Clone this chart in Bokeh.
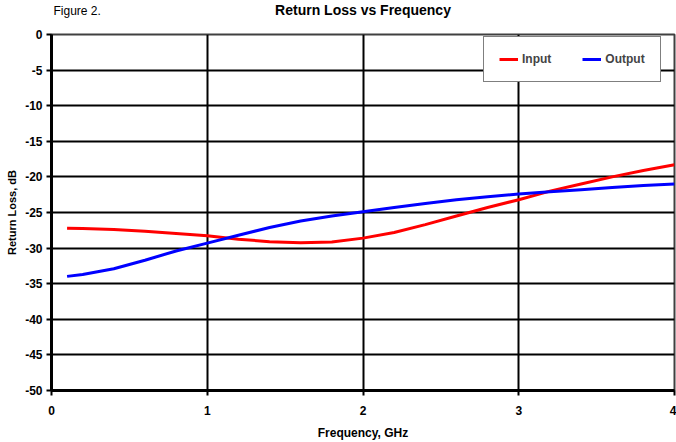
from bokeh.plotting import figure
from bokeh.models import Range1d, Legend, LegendItem, Title, FixedTicker
from bokeh.embed import file_html
from bokeh.resources import INLINE

freq = [0.1, 0.2, 0.4, 0.6, 0.8, 1.0, 1.2, 1.4, 1.6, 1.8, 2.0, 2.2, 2.4, 2.6, 2.8, 3.0, 3.2, 3.4, 3.6, 3.8, 4.0]
input_rl = [-27.2, -27.25, -27.4, -27.65, -27.95, -28.25, -28.75, -29.1, -29.25, -29.15, -28.6, -27.8, -26.7,
            -25.5, -24.3, -23.2, -22.0, -21.0, -20.0, -19.1, -18.3]
output_rl = [-33.97, -33.7, -32.9, -31.7, -30.4, -29.3, -28.2, -27.1, -26.2, -25.5, -24.9, -24.3, -23.75,
             -23.2, -22.8, -22.4, -22.1, -21.8, -21.5, -21.2, -21.0]
x_ticks = [0, 1, 2, 3, 4]
y_ticks = [0, -5, -10, -15, -20, -25, -30, -35, -40, -45, -50]

FONT = "Liberation Sans"

p = figure(width=676, height=442, output_backend="svg", toolbar_location=None, title=None,
           x_range=Range1d(0, 4), y_range=Range1d(-50, 0),
           min_border_left=51, min_border_right=2, min_border_top=34, min_border_bottom=52)

# stacked from the frame outwards: spacer, figure label, main title, spacer
spacer_in = Title(text=" ", text_font=FONT, text_font_size="10px", standoff=6.5)
t_fig = Title(text="Figure 2.", align="left", vertical_align="top", text_font=FONT,
              text_font_size="12px", text_font_style="normal", text_color="black", offset=2, standoff=-11)
t_main = Title(text="Return Loss vs Frequency", align="center", vertical_align="bottom", text_font=FONT,
               text_font_size="14px", text_font_style="bold", text_color="black", offset=0, standoff=-16)
spacer_out = Title(text=" ", text_font=FONT, text_font_size="10px", standoff=-6)
p.add_layout(spacer_in, "above")
p.add_layout(t_fig, "above")
p.add_layout(t_main, "above")
p.add_layout(spacer_out, "above")

r_in = p.line(freq, input_rl, line_color="#ff0000", line_width=3)
r_out = p.line(freq, output_rl, line_color="#0000ff", line_width=3)

p.xaxis.ticker = FixedTicker(ticks=x_ticks)
p.yaxis.ticker = FixedTicker(ticks=y_ticks)
p.yaxis.major_label_overrides = {t: str(t) for t in y_ticks}
p.xaxis.major_label_overrides = {t: str(t) for t in x_ticks}
p.xaxis.axis_label = "Frequency, GHz"
p.yaxis.axis_label = "Return Loss, dB"
for ax in (p.xaxis[0], p.yaxis[0]):
    ax.axis_label_text_font = FONT
    ax.axis_label_text_font_style = "bold"
    ax.major_label_text_font = FONT
    ax.major_label_text_font_size = "12px"
    ax.major_label_text_font_style = "bold"
    ax.major_label_text_color = "black"
    ax.axis_label_text_color = "black"
    ax.axis_line_color = "black"
    ax.axis_line_width = 3
    ax.major_tick_line_color = "black"
    ax.major_tick_line_width = 2
    ax.major_tick_out = 5
    ax.major_tick_in = 0
    ax.minor_tick_line_color = None
p.yaxis[0].axis_label_text_font_size = "11px"
p.xaxis[0].axis_label_text_font_size = "12px"
p.yaxis[0].major_label_standoff = 4
p.yaxis[0].axis_label_standoff = 4
p.xaxis[0].major_label_standoff = 10
p.xaxis[0].axis_label_standoff = 8

p.xgrid.grid_line_color = "black"
p.xgrid.grid_line_width = 2
p.ygrid.grid_line_color = "black"
p.ygrid.grid_line_width = 2
p.outline_line_color = "#404040"
p.outline_line_width = 2

legend = Legend(items=[LegendItem(label="Input", renderers=[r_in]),
                       LegendItem(label="Output", renderers=[r_out])],
                orientation="horizontal", location=(432, 308))
legend.label_text_font = FONT
legend.label_text_font_size = "12px"
legend.label_text_font_style = "bold"
legend.glyph_width = 19
legend.glyph_height = 12
legend.label_height = 12
legend.label_standoff = 4
legend.spacing = 31
legend.padding = 15
legend.margin = 0
legend.border_line_color = "black"
legend.border_line_width = 1
legend.background_fill_color = "white"
legend.background_fill_alpha = 1
p.add_layout(legend, "center")

open("out.html", "w").write(file_html(p, INLINE))
